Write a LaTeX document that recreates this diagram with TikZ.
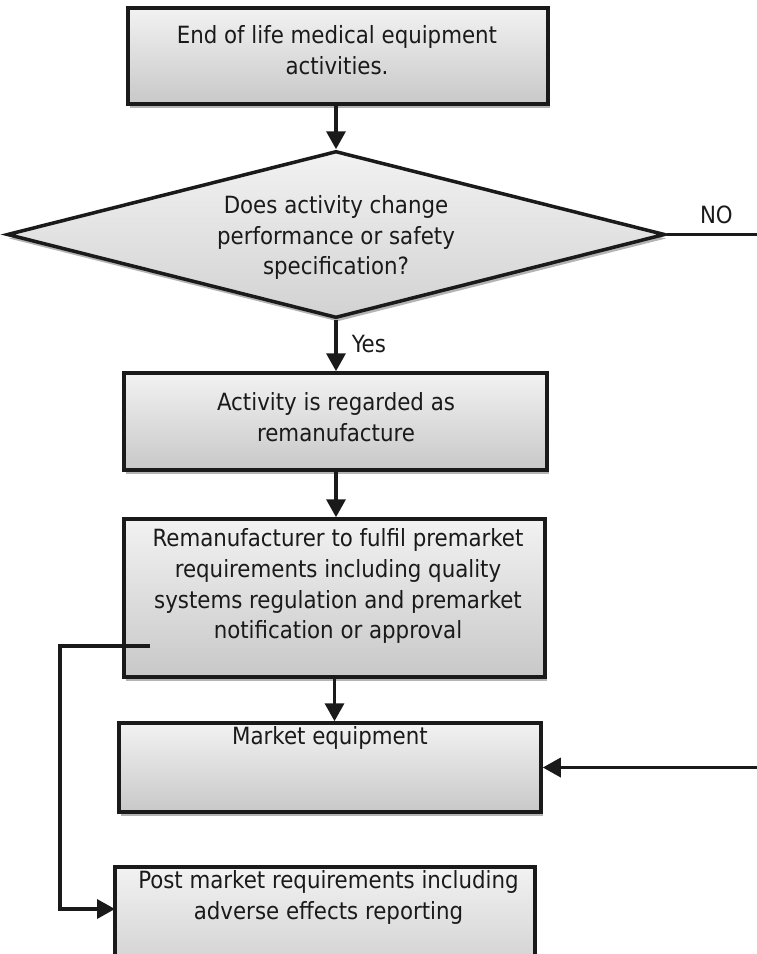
\documentclass[tikz,border=0pt]{standalone}
\usepackage{fontspec}
\setmainfont{DejaVu Sans Condensed}
\usetikzlibrary{arrows.meta, shapes.geometric, shadows}

\begin{document}
\begin{tikzpicture}[x=0.02cm, y=-0.02cm,
    flowbox/.style={rectangle, draw=borderColour, line width=2pt, inner sep=0pt,
        top color=fillTop, bottom color=fillBottom,
        drop shadow={shadow xshift=0.03cm, shadow yshift=-0.08cm, fill=shadowColour, opacity=1}},
    decision/.style={flowbox, diamond, shape aspect=4, top color=fillTop, bottom color=fillDiamond},
    boxtext/.style={font=\fontsize{13.5}{17.6}\selectfont, align=center, text=textColour, inner sep=0pt},
    flowline/.style={draw=borderColour, line width=2pt},
    flowarrow/.style={flowline, -{Triangle[length=0.36cm, width=0.38cm]}}]
    % Define colours
    \definecolor{borderColour}{HTML}{1A1A1A}
    \definecolor{textColour}{HTML}{1A1A1A}
    \definecolor{fillTop}{HTML}{F2F2F2}
    \definecolor{fillBottom}{HTML}{C8C8C8}
    \definecolor{fillDiamond}{HTML}{D2D2D2}
    \definecolor{shadowColour}{HTML}{B4B4B4}

    % Define pixel unit
    \def\px{0.02cm}

    % Fix the picture size
    \useasboundingbox (0,0) rectangle (757,954);

    % Draw the boxes
    \node[flowbox, minimum width=420*\px, minimum height=96*\px] (endlife) at (338,56) {};
    \node[decision, minimum width=658*\px, minimum height=167*\px] (decide) at (336,234.5) {};
    \node[flowbox, minimum width=423*\px, minimum height=97*\px] (regarded) at (335.5,421.5) {};
    \node[flowbox, minimum width=421*\px, minimum height=158*\px] (reman) at (334.5,598) {};
    \node[flowbox, minimum width=422*\px, minimum height=89*\px] (market) at (330,767.5) {};
    \node[flowbox, minimum width=420*\px, minimum height=130*\px] (postmarket) at (325,932) {};

    % Write the box texts
    \node[boxtext] (endlifetext) at (337,50) {End of life medical equipment\\activities.};
    \node[boxtext] (decidetext) at (336,237.5) {Does activity change\\performance or safety\\specification?};
    \node[boxtext] (regardedtext) at (336,417) {Activity is regarded as\\remanufacture};
    \node[boxtext] (remantext) at (338,586) {Remanufacturer to fulfil premarket\\requirements including quality\\systems regulation and premarket\\notification or approval};
    \node[boxtext] (markettext) at (330,738) {Market equipment};
    \node[boxtext] (postmarkettext) at (328.5,897) {Post market requirements including\\adverse effects reporting};

    % Define free ends of the connectors
    \coordinate (noend) at (757,234.5);
    \coordinate (marketin) at (757,767.5);
    \coordinate (fbstart) at (150,646);
    \coordinate (fbturn) at (60,646);
    \coordinate (postin) at (115,909);

    % Draw the connectors
    \draw[flowarrow] (endlife.south -| decide.north) -- (decide.north);
    \draw[flowarrow] (decide.south) -- (decide.south |- regarded.north)
        node[boxtext, pos=0.47, anchor=west, xshift=0.28cm] (yeslabel) {Yes};
    \draw[flowarrow] (regarded.south -| decide.south) -- (decide.south |- reman.north);
    \draw[flowarrow] (reman.south) -- (reman.south |- market.north);
    \draw[flowline] (decide.east) -- (noend)
        node[boxtext, pos=0.55, anchor=south, yshift=0.18cm] (nolabel) {NO};
    \draw[flowarrow] (marketin) -- (market.east);
    \draw[flowarrow] (fbstart) -- (fbturn) |- (postin);

\end{tikzpicture}
\end{document}
